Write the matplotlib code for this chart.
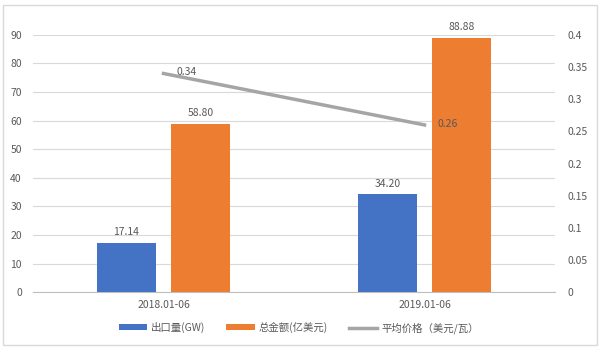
import matplotlib.pyplot as plt
import numpy as np
from matplotlib.patches import Rectangle

plt.rcParams['font.family'] = ['Noto Sans CJK SC', 'DejaVu Sans']

categories = ['2018.01-06', '2019.01-06']
export_gw = [17.14, 34.20]
total_usd = [58.80, 88.88]
avg_price = [0.34, 0.26]

blue = '#4472C4'
orange = '#ED7D31'
gray = '#A5A5A5'
txt = '#595959'

fig = plt.figure(figsize=(6, 3.49), dpi=100)
ax = fig.add_axes([0.055, 0.163, 0.87, 0.737])
ax2 = ax.twinx()

x = np.arange(len(categories))
w = 0.226
b1 = ax.bar(x - 0.142, export_gw, w, color=blue, label='出口量(GW)', zorder=3)
b2 = ax.bar(x + 0.142, total_usd, w, color=orange, label='总金额(亿美元)', zorder=3)
for xi, v in zip(x - 0.142, export_gw):
    ax.text(xi, v + 2, f'{v:.2f}', ha='center', va='bottom', fontsize=7.5, color=txt)
for xi, v in zip(x + 0.142, total_usd):
    ax.text(xi, v + 2, f'{v:.2f}', ha='center', va='bottom', fontsize=7.5, color=txt)

ln, = ax2.plot(x, avg_price, color=gray, lw=2.5, label='平均价格（美元/瓦）', zorder=4)
for xi, v in zip(x, avg_price):
    ax2.text(xi + 0.05, v + 0.002, f'{v:.2f}', ha='left', va='center', fontsize=7.5, color=txt)

ax.set_xlim(-0.5, 1.5)
ax.set_ylim(0, 90)
ax.set_yticks(range(0, 91, 10))
ax2.set_ylim(0, 0.4)
ax2.set_yticks(np.arange(0, 0.41, 0.05))
ax2.set_yticklabels(['0', '0.05', '0.1', '0.15', '0.2', '0.25', '0.3', '0.35', '0.4'])
ax.set_xticks(x)
ax.set_xticklabels(categories)

ax.grid(axis='y', color='#D9D9D9', lw=0.8, zorder=0)
for a in (ax, ax2):
    for s in a.spines.values():
        s.set_visible(False)
    a.tick_params(length=0, labelsize=7.5, colors=txt, pad=6)
ax.spines['bottom'].set_visible(True)
ax.spines['bottom'].set_color('#BFBFBF')
ax.tick_params(axis='y', pad=8)
ax2.tick_params(axis='y', pad=9)

fig.legend(handles=[b1, b2, ln], loc='center', bbox_to_anchor=(0.498, 0.061), ncol=3,
           frameon=False, fontsize=7.5, labelcolor=txt, handlelength=2.7, handleheight=0.5,
           handletextpad=0.4, columnspacing=2.0)

fig.patches.append(Rectangle((0.005, 0.012), 0.99, 0.975, transform=fig.transFigure,
                             fill=False, edgecolor='#D9D9D9', lw=1))

fig.savefig('out.png', dpi=100)
